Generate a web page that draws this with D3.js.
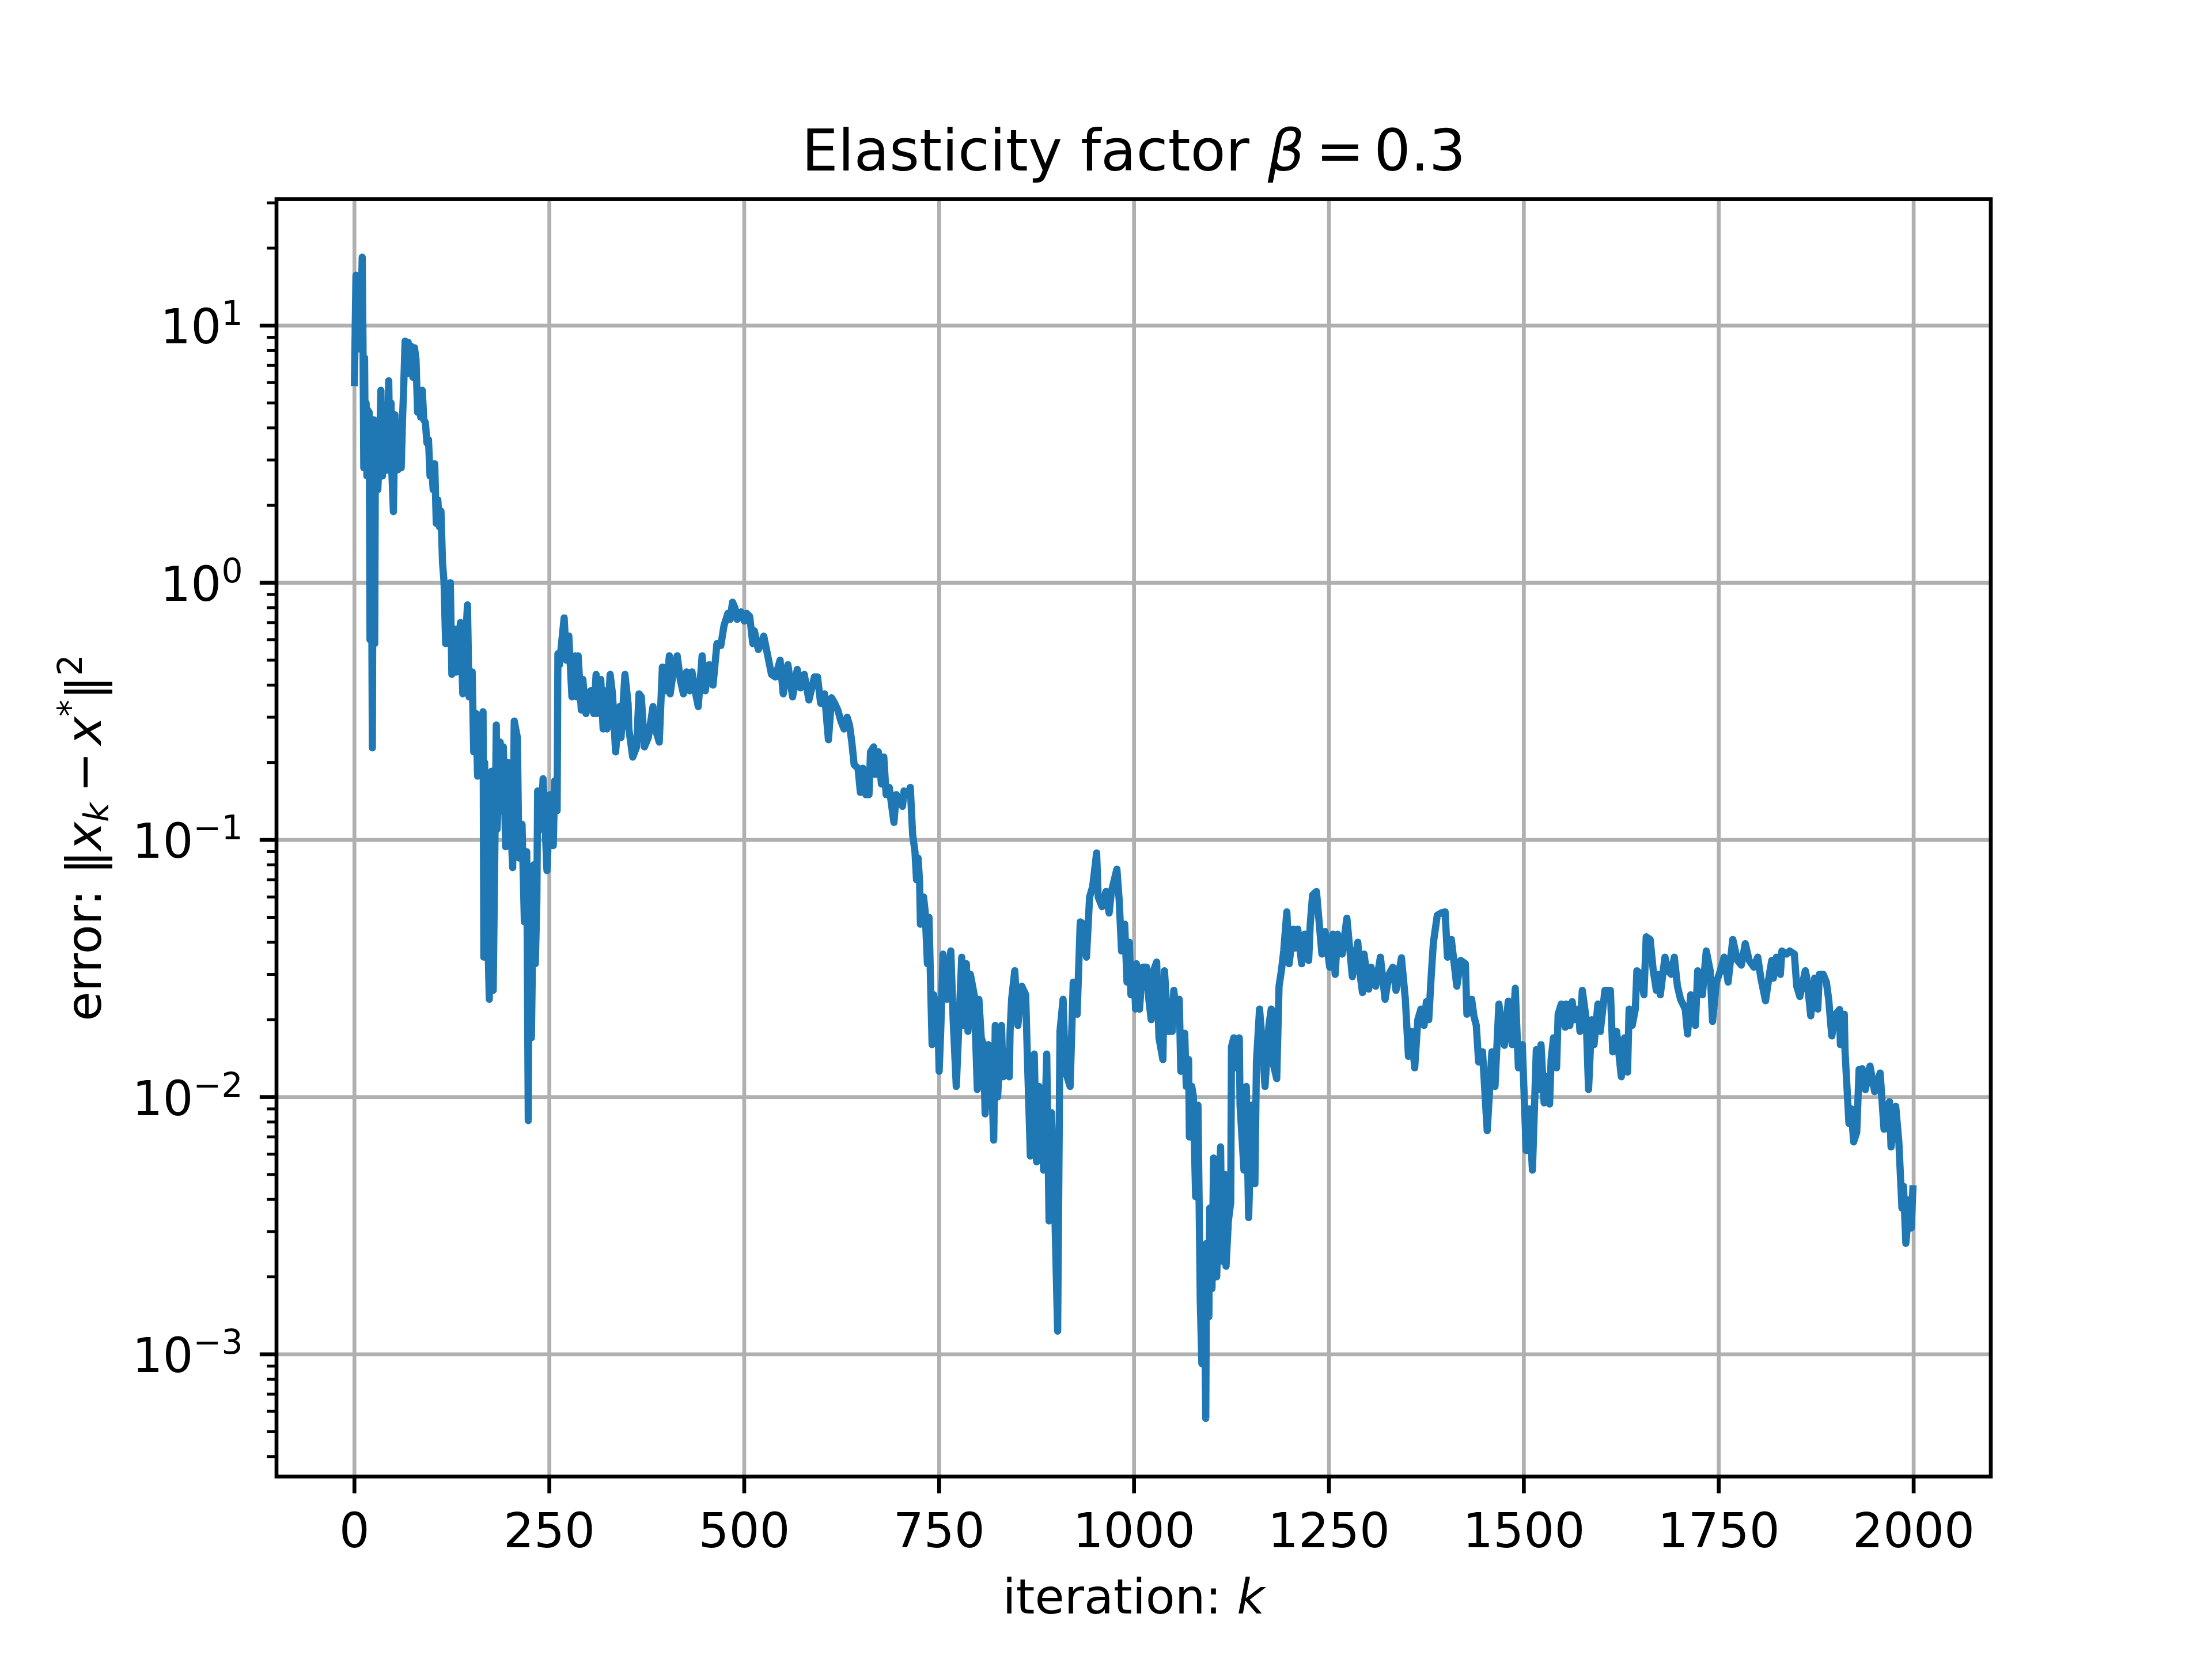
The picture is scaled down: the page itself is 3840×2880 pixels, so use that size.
<!DOCTYPE html>
<html><head><meta charset="utf-8">
<script src="https://cdn.jsdelivr.net/npm/d3@7"></script>
<style>html,body{margin:0;padding:0;background:#fff}</style>
</head><body>
<svg id="chart" width="3840" height="2880"></svg>
<script>
// ---- data ----
const iterations = [0,2,4,6,8,10,11,12,13,14,15,16,17,18,19,20,21,22,23,24,25,26,27,28,29,30,32,34,36,38,40,42,44,45,47,48,50,52,54,56,58,60,62,63,65,67,69,71,73,75,77,79,81,83,85,87,89,91,93,95,97,99,101,103,105,107,109,111,113,115,117,119,123,125,129,131,136,139,145,147,151,153,156,158,162,165,166,167,170,173,176,178,182,183,187,188,191,194,197,203,205,209,211,215,218,221,223,224,227,230,232,234,235,239,242,247,251,255,257,260,261,263,269,272,275,279,283,285,287,291,293,297,303,307,310,311,316,319,323,324,328,331,335,340,342,347,351,352,357,362,365,368,372,377,383,386,391,395,400,404,405,409,414,418,422,426,430,433,437,441,446,450,455,460,465,470,474,479,482,485,488,491,496,500,503,507,511,513,518,521,525,528,535,540,546,550,556,562,568,572,577,583,590,594,598,603,608,612,616,620,624,628,632,635,638,641,646,649,652,656,660,662,666,668,672,676,679,682,686,692,695,700,703,705,710,713,716,719,721,723,725,726,730,732,735,737,739,741,743,746,748,750,752,755,760,765,768,772,775,779,782,785,787,790,795,799,801,804,807,809,813,816,820,822,825,830,832,836,840,841,843,847,851,856,861,863,867,872,875,878,882,884,888,891,894,898,902,905,909,912,918,922,927,931,936,939,943,947,952,954,959,964,968,971,978,981,984,988,991,994,996,1000,1002,1003,1007,1011,1016,1019,1022,1025,1029,1032,1037,1039,1044,1049,1051,1055,1058,1060,1065,1067,1070,1071,1074,1076,1079,1082,1085,1087,1090,1092,1093,1096,1097,1100,1102,1106,1111,1113,1117,1118,1121,1124,1125,1128,1131,1135,1136,1141,1144,1147,1151,1155,1157,1161,1164,1168,1173,1176,1178,1183,1186,1189,1192,1196,1199,1204,1207,1210,1215,1219,1224,1226,1229,1234,1241,1245,1251,1255,1258,1261,1267,1273,1280,1287,1290,1293,1295,1301,1304,1310,1316,1322,1327,1332,1336,1343,1348,1352,1356,1360,1364,1368,1372,1375,1378,1381,1384,1389,1394,1399,1402,1407,1414,1419,1425,1427,1433,1436,1439,1442,1447,1453,1459,1463,1468,1475,1480,1485,1489,1493,1498,1503,1507,1511,1516,1519,1522,1526,1529,1533,1535,1538,1542,1544,1548,1553,1554,1559,1562,1565,1570,1572,1575,1580,1583,1587,1590,1595,1598,1604,1611,1614,1619,1625,1629,1633,1635,1639,1643,1645,1650,1654,1657,1662,1666,1670,1672,1675,1681,1685,1689,1693,1697,1701,1707,1710,1714,1720,1723,1729,1734,1739,1742,1747,1752,1757,1762,1768,1774,1779,1784,1789,1795,1800,1804,1810,1815,1818,1820,1824,1829,1831,1837,1841,1847,1850,1854,1861,1863,1868,1873,1877,1879,1884,1888,1891,1895,1900,1905,1906,1911,1912,1917,1920,1923,1927,1930,1934,1938,1944,1950,1957,1962,1966,1969,1971,1977,1981,1985,1987,1990,1995,1997,1999];
const errors = [6.0,15.7,8.1,14,9.5,18.45,8.6,2.8,7.5,3.0,5.0,2.6,4.7,3.0,4.6,0.6,3.6,1.2,0.228,2.5,4.3,0.58,4.0,2.5,3.5,2.3,3.2,5.6,2.6,4.3,3.0,2.74,6.1,3.8,5.0,2.7,1.89,4.5,3.5,2.75,4.0,2.8,4.6,5.5,8.7,7.5,8.6,6.5,8.3,6.3,8.2,7.4,4.6,5.2,4.4,5.6,4.3,4.2,3.5,3.6,2.6,2.9,2.3,2.9,1.7,2.1,1.65,1.9,1.2,1.0,0.58,0.8,1.0,0.44,0.66,0.45,0.7,0.37,0.82,0.36,0.45,0.22,0.31,0.177,0.25,0.315,0.035,0.2,0.06,0.024,0.185,0.026,0.28,0.11,0.24,0.13,0.23,0.094,0.2,0.078,0.29,0.25,0.085,0.115,0.048,0.09,0.0081,0.05,0.017,0.08,0.033,0.058,0.155,0.11,0.173,0.076,0.15,0.095,0.17,0.13,0.53,0.48,0.73,0.5,0.62,0.36,0.52,0.36,0.52,0.32,0.42,0.31,0.38,0.31,0.44,0.31,0.42,0.27,0.38,0.27,0.44,0.37,0.22,0.33,0.25,0.44,0.34,0.27,0.21,0.23,0.37,0.36,0.23,0.25,0.33,0.27,0.24,0.47,0.38,0.52,0.37,0.45,0.52,0.42,0.37,0.45,0.38,0.45,0.38,0.33,0.52,0.38,0.48,0.4,0.58,0.57,0.68,0.76,0.72,0.84,0.8,0.72,0.77,0.71,0.76,0.74,0.58,0.65,0.55,0.57,0.62,0.56,0.44,0.43,0.5,0.37,0.48,0.36,0.46,0.39,0.44,0.35,0.43,0.43,0.34,0.37,0.245,0.357,0.34,0.32,0.29,0.27,0.3,0.28,0.24,0.196,0.19,0.153,0.19,0.15,0.15,0.22,0.23,0.18,0.22,0.165,0.21,0.15,0.16,0.117,0.15,0.14,0.135,0.155,0.15,0.16,0.105,0.09,0.07,0.085,0.068,0.047,0.06,0.053,0.033,0.05,0.028,0.016,0.025,0.022,0.023,0.0126,0.018,0.036,0.024,0.037,0.02,0.011,0.018,0.035,0.019,0.033,0.018,0.03,0.025,0.0107,0.024,0.017,0.016,0.0086,0.016,0.015,0.0068,0.019,0.01,0.019,0.012,0.015,0.012,0.018,0.024,0.031,0.019,0.027,0.025,0.015,0.0059,0.0147,0.0056,0.011,0.0088,0.0052,0.0147,0.0033,0.0087,0.004,0.00123,0.018,0.024,0.0126,0.011,0.028,0.021,0.048,0.047,0.035,0.06,0.066,0.089,0.06,0.055,0.063,0.052,0.063,0.077,0.058,0.037,0.047,0.028,0.04,0.025,0.031,0.022,0.033,0.022,0.032,0.032,0.024,0.02,0.031,0.0335,0.017,0.014,0.031,0.018,0.018,0.026,0.02,0.024,0.0126,0.0177,0.011,0.014,0.007,0.011,0.0101,0.0041,0.0093,0.0016,0.00092,0.002,0.000563,0.0027,0.0014,0.0037,0.0018,0.0058,0.002,0.0064,0.0023,0.005,0.0022,0.0033,0.0039,0.0157,0.017,0.013,0.017,0.0093,0.0052,0.011,0.0034,0.0093,0.0046,0.0137,0.022,0.017,0.011,0.019,0.022,0.0137,0.0118,0.027,0.031,0.037,0.0525,0.033,0.045,0.038,0.045,0.033,0.043,0.034,0.047,0.061,0.063,0.036,0.044,0.032,0.043,0.030,0.043,0.036,0.0496,0.0294,0.04,0.03,0.0255,0.036,0.0263,0.032,0.027,0.035,0.024,0.03,0.032,0.026,0.0348,0.024,0.0144,0.018,0.013,0.02,0.022,0.019,0.0235,0.02,0.029,0.04,0.051,0.052,0.0525,0.035,0.041,0.027,0.034,0.033,0.021,0.024,0.0206,0.019,0.0137,0.015,0.0074,0.015,0.011,0.023,0.0159,0.0236,0.016,0.0265,0.013,0.016,0.0062,0.009,0.0052,0.0153,0.0107,0.016,0.0095,0.012,0.0094,0.014,0.017,0.013,0.021,0.023,0.0187,0.023,0.019,0.0235,0.02,0.022,0.018,0.026,0.02,0.0107,0.02,0.016,0.023,0.018,0.026,0.026,0.015,0.018,0.012,0.017,0.0125,0.022,0.019,0.022,0.031,0.03,0.025,0.042,0.041,0.031,0.026,0.03,0.025,0.035,0.031,0.030,0.035,0.027,0.024,0.022,0.0176,0.025,0.019,0.031,0.025,0.037,0.031,0.0197,0.028,0.031,0.035,0.028,0.041,0.034,0.0326,0.0395,0.034,0.032,0.035,0.029,0.0237,0.03,0.034,0.029,0.035,0.03,0.037,0.036,0.037,0.036,0.027,0.0246,0.031,0.029,0.0207,0.029,0.022,0.03,0.03,0.028,0.024,0.0173,0.021,0.0219,0.016,0.021,0.015,0.0079,0.009,0.0067,0.0073,0.0128,0.0129,0.0107,0.0132,0.0105,0.0124,0.0075,0.0088,0.0096,0.0064,0.0092,0.0067,0.0037,0.0045,0.0027,0.004,0.0031,0.0044];
const xTickValues = [0,250,500,750,1000,1250,1500,1750,2000];
const xTickLabels = ["0","250","500","750","1000","1250","1500","1750","2000"];
const yTickExponents = [-3,-2,-1,0,1];
const yTickExpLabels = ["\u22123","\u22122","\u22121","0","1"];
const titleMain = "Elasticity factor ";
const titleSymbol = "\u03B2";
const titleValue = "0.3";
const xLabelMain = "iteration: ";
const xLabelVar = "k";

// ---- layout ----
const W = 3840, H = 2880;
const L = 480, R = 3456, T = 345.6, B = 2563.2;
const FONT = "DejaVu Sans";
const FS = 83.33;       // 10pt @600dpi
const LW = 6.67;        // 0.8pt
const svg = d3.select("#chart");
svg.append("rect").attr("width", W).attr("height", H).attr("fill", "#fff");

const data = iterations.map((k, i) => ({k, v: errors[i]}));
const kExt = d3.extent(iterations);
const kPad = 0.05 * (kExt[1] - kExt[0]);
const x = d3.scaleLinear().domain([kExt[0] - kPad, kExt[1] + kPad]).range([L, R]);
const lExt = d3.extent(errors, v => Math.log10(v));
const lPad = 0.05 * (lExt[1] - lExt[0]);
const y = d3.scaleLog().domain([10 ** (lExt[0] - lPad), 10 ** (lExt[1] + lPad)]).range([B, T]);

// grid
const grid = svg.append("g").attr("stroke", "#b0b0b0").attr("stroke-width", LW);
xTickValues.forEach(v => grid.append("line").attr("x1", x(v)).attr("x2", x(v)).attr("y1", T).attr("y2", B));
yTickExponents.forEach(e => grid.append("line").attr("x1", L).attr("x2", R).attr("y1", y(10 ** e)).attr("y2", y(10 ** e)));

// clip
svg.append("clipPath").attr("id", "clip").append("rect").attr("x", L).attr("y", T).attr("width", R - L).attr("height", B - T);

// line
const line = d3.line().x(d => x(d.k)).y(d => y(d.v));
svg.append("path").datum(data).attr("d", line)
  .attr("fill", "none").attr("stroke", "#1f77b4").attr("stroke-width", 12.5)
  .attr("stroke-linejoin", "round").attr("stroke-linecap", "square")
  .attr("clip-path", "url(#clip)");

// spines
svg.append("rect").attr("x", L).attr("y", T).attr("width", R - L).attr("height", B - T)
  .attr("fill", "none").attr("stroke", "#000").attr("stroke-width", LW);

// x ticks
const tk = svg.append("g").attr("stroke", "#000");
xTickValues.forEach(v => tk.append("line").attr("x1", x(v)).attr("x2", x(v)).attr("y1", B).attr("y2", B + 29.17).attr("stroke-width", LW));
// y major ticks
yTickExponents.forEach(e => tk.append("line").attr("x1", L - 29.17).attr("x2", L).attr("y1", y(10 ** e)).attr("y2", y(10 ** e)).attr("stroke-width", LW));
// y minor ticks
const [d0, d1] = y.domain();
for (let e = Math.floor(Math.log10(d0)); e <= Math.ceil(Math.log10(d1)); e++) {
  for (let m = 2; m <= 9; m++) {
    const v = m * 10 ** e;
    if (v >= d0 && v <= d1) tk.append("line").attr("x1", L - 16.67).attr("x2", L).attr("y1", y(v)).attr("y2", y(v)).attr("stroke-width", 5);
  }
}

// x tick labels
const xl = svg.append("g").attr("font-family", FONT).attr("font-size", FS).attr("text-anchor", "middle").attr("fill", "#000");
xTickValues.forEach((v, i) => xl.append("text").attr("x", x(v)).attr("y", B + 123).text(xTickLabels[i]));

// y tick labels
const yl = svg.append("g").attr("font-family", FONT).attr("font-size", FS).attr("text-anchor", "end").attr("fill", "#000");
yTickExponents.forEach((e, i) => {
  const t = yl.append("text").attr("x", L - 58.5).attr("y", y(10 ** e) + 31);
  t.append("tspan").text("10");
  t.append("tspan").attr("font-size", FS * 0.7).attr("dy", -32).text(yTickExpLabels[i]);
});

// title
const tt = svg.append("text").attr("x", (L + R) / 2).attr("y", 296).attr("text-anchor", "middle")
  .attr("font-family", FONT).attr("font-size", 100).attr("fill", "#000");
tt.append("tspan").text(titleMain);
tt.append("tspan").attr("font-style", "italic").text(titleSymbol);
tt.append("tspan").attr("dx", 20).text("=");
tt.append("tspan").attr("dx", 17).text(titleValue);

// x label
const xt = svg.append("text").attr("x", (L + R) / 2).attr("y", 2801).attr("text-anchor", "middle")
  .attr("font-family", FONT).attr("font-size", FS).attr("fill", "#000");
xt.append("tspan").text(xLabelMain);
xt.append("tspan").attr("font-style", "italic").text(xLabelVar);

// y label
const ytl = svg.append("text").attr("transform", "translate(175,1454.4) rotate(-90)").attr("text-anchor", "middle")
  .attr("font-family", FONT).attr("font-size", FS).attr("fill", "#000");
ytl.append("tspan").text("error: \u2016");
ytl.append("tspan").attr("font-style", "italic").text("x");
ytl.append("tspan").attr("font-style", "italic").attr("font-size", FS * 0.7).attr("dy", 13).text("k");
ytl.append("tspan").attr("dy", -13).attr("dx", 18).text("\u2212");
ytl.append("tspan").attr("font-style", "italic").attr("dx", 12).text("x");
ytl.append("tspan").attr("font-size", FS * 0.7).attr("dy", -33).text("*");
ytl.append("tspan").attr("dy", 33).text("\u2016");
ytl.append("tspan").attr("font-size", FS * 0.7).attr("dy", -33).text("2");
</script>
</body></html>
